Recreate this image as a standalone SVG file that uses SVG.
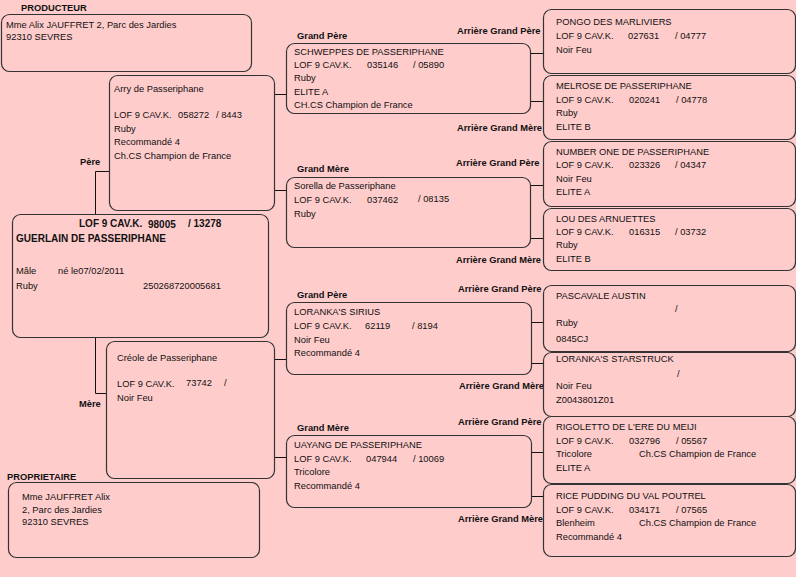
<svg xmlns="http://www.w3.org/2000/svg" width="796" height="577" viewBox="0 0 796 577">
<style>
text{font-family:"Liberation Sans",Arial,sans-serif;font-size:9.33px;fill:#111}
.b{font-weight:bold}
.h{font-weight:bold;font-size:10px}
.box{fill:#FFCCCC;stroke:#333;stroke-width:1.2}
.c{stroke:#111;stroke-width:1;fill:none}
</style>
<rect width="796" height="577" fill="#FFCCCC"/>
<g id="connectors">
<path class="c" d="M95.5,171.5H109M95.5,171.5V214M95.5,337V393.5H106"/>
<path class="c" d="M274,94.5H286M274,190.5H286M274,359.5H286M274,457.5H286"/>
<path class="c" d="M530,53.5H543M530,101.5H543M530,185.5H543M530,238.5H543M531,322.5H543M531,363.5H543M531,452.5H543M531,496.5H543"/>
</g>
<g id="labels">
<text class="b" x="21" y="10.5">PRODUCTEUR</text>
<text class="b" x="7" y="479.5">PROPRIETAIRE</text>
<text class="b" x="80" y="164.5">Père</text>
<text class="b" x="79" y="406.5">Mère</text>
<text class="b" x="297" y="38.5">Grand Père</text>
<text class="b" x="457" y="33.5">Arrière Grand Père</text>
<text class="b" x="457" y="130.5">Arrière Grand Mère</text>
<text class="b" x="297" y="172.3">Grand Mère</text>
<text class="b" x="456" y="166">Arrière Grand Père</text>
<text class="b" x="456" y="262.5">Arrière Grand Mère</text>
<text class="b" x="297" y="297.5">Grand Père</text>
<text class="b" x="458" y="291.5">Arrière Grand Père</text>
<text class="b" x="459" y="388.5">Arrière Grand Mère</text>
<text class="b" x="297" y="431">Grand Mère</text>
<text class="b" x="458" y="424.5">Arrière Grand Père</text>
<text class="b" x="458" y="521.5">Arrière Grand Mère</text>
</g>
<g id="producteur">
<rect class="box" x="1.5" y="14.5" width="250" height="57" rx="8"/>
<text x="6" y="28">Mme Alix JAUFFRET 2, Parc des Jardies</text>
<text x="6" y="40">92310 SEVRES</text>
</g>
<g id="proprietaire">
<rect class="box" x="8.5" y="482.5" width="251" height="75" rx="8"/>
<text x="22" y="499.5">Mme JAUFFRET Alix</text>
<text x="22" y="512.5">2, Parc des Jardies</text>
<text x="22" y="524.5">92310 SEVRES</text>
</g>
<g id="sujet">
<rect class="box" x="12.5" y="214.5" width="256" height="123" rx="8"/>
<text class="h" x="79" y="227">LOF 9 CAV.K.</text>
<text class="h" x="148" y="228">98005</text>
<text class="h" x="188" y="227">/  13278</text>
<text class="h" x="16" y="241.5">GUERLAIN DE PASSERIPHANE</text>
<text x="16" y="274">Mâle</text>
<text x="58" y="274">né le07/02/2011</text>
<text x="16" y="288.5">Ruby</text>
<text x="143" y="288.5">250268720005681</text>
</g>
<g id="pere">
<rect class="box" x="109.5" y="75.5" width="165" height="135" rx="8"/>
<text x="114" y="91.5">Arry de Passeriphane</text>
<text x="114" y="117.5">LOF 9 CAV.K.</text>
<text x="178" y="117.5">058272</text>
<text x="216" y="117.5">/ 8443</text>
<text x="114" y="131.5">Ruby</text>
<text x="114" y="145">Recommandé 4</text>
<text x="114" y="158.5">Ch.CS Champion de France</text>
</g>
<g id="mere">
<rect class="box" x="106.5" y="341.5" width="168" height="137" rx="8"/>
<text x="117" y="360.5">Créole de Passeriphane</text>
<text x="117" y="387">LOF 9 CAV.K.</text>
<text x="186" y="385.5">73742</text>
<text x="224" y="385.5">/</text>
<text x="117" y="401">Noir Feu</text>
</g>
<g id="gp1">
<rect class="box" x="286.5" y="43.5" width="244" height="70" rx="8"/>
<text x="294" y="54.5">SCHWEPPES DE PASSERIPHANE</text>
<text x="294" y="68">LOF 9 CAV.K.</text>
<text x="367" y="68">035146</text>
<text x="413" y="68">/ 05890</text>
<text x="294" y="81">Ruby</text>
<text x="294" y="94.5">ELITE A</text>
<text x="294" y="108">CH.CS Champion de France</text>
</g>
<g id="gm1">
<rect class="box" x="286.5" y="177.5" width="244" height="70" rx="8"/>
<text x="294" y="188.5">Sorella de Passeriphane</text>
<text x="294" y="203">LOF 9 CAV.K.</text>
<text x="367" y="203">037462</text>
<text x="418" y="201.5">/ 08135</text>
<text x="294" y="216.5">Ruby</text>
</g>
<g id="gp2">
<rect class="box" x="286.5" y="302.5" width="245" height="72" rx="8"/>
<text x="294" y="315">LORANKA'S SIRIUS</text>
<text x="294" y="328.7">LOF 9 CAV.K.</text>
<text x="365" y="328.7">62119</text>
<text x="412" y="328.7">/ 8194</text>
<text x="294" y="342.5">Noir Feu</text>
<text x="294" y="356">Recommandé 4</text>
</g>
<g id="gm2">
<rect class="box" x="286.5" y="435.5" width="245" height="72" rx="8"/>
<text x="294" y="447.5">UAYANG DE PASSERIPHANE</text>
<text x="294" y="461.5">LOF 9 CAV.K.</text>
<text x="366" y="461.5">047944</text>
<text x="413" y="461.5">/ 10069</text>
<text x="294" y="474.5">Tricolore</text>
<text x="294" y="488.5">Recommandé 4</text>
</g>
<g id="agp1">
<rect class="box" x="543.5" y="9.5" width="252" height="64" rx="8"/>
<text x="556" y="24.5">PONGO DES MARLIVIERS</text>
<text x="556" y="38.5">LOF 9 CAV.K.</text>
<text x="628" y="38.5">027631</text>
<text x="675" y="38.5">/ 04777</text>
<text x="556" y="53">Noir Feu</text>
</g>
<g id="agm1">
<rect class="box" x="543.5" y="75.5" width="252" height="64" rx="8"/>
<text x="556" y="88.5">MELROSE DE PASSERIPHANE</text>
<text x="556" y="102.5">LOF 9 CAV.K.</text>
<text x="629" y="102.5">020241</text>
<text x="676" y="102.5">/ 04778</text>
<text x="556" y="115.5">Ruby</text>
<text x="556" y="129.5">ELITE B</text>
</g>
<g id="agp2">
<rect class="box" x="543.5" y="141.5" width="252" height="65" rx="8"/>
<text x="556" y="154.5">NUMBER ONE DE PASSERIPHANE</text>
<text x="556" y="168.3">LOF 9 CAV.K.</text>
<text x="629" y="168.3">023326</text>
<text x="675" y="168.3">/ 04347</text>
<text x="556" y="181.7">Noir Feu</text>
<text x="556" y="195.3">ELITE A</text>
</g>
<g id="agm2">
<rect class="box" x="543.5" y="208.5" width="252" height="62" rx="8"/>
<text x="556" y="221.7">LOU DES ARNUETTES</text>
<text x="556" y="235">LOF 9 CAV.K.</text>
<text x="629" y="235">016315</text>
<text x="675" y="235">/ 03732</text>
<text x="556" y="248.3">Ruby</text>
<text x="556" y="262">ELITE B</text>
</g>
<g id="agp3">
<rect class="box" x="543.5" y="285.5" width="252" height="66" rx="8"/>
<text x="556" y="298.5">PASCAVALE AUSTIN</text>
<text x="675" y="312">/</text>
<text x="556" y="325.5">Ruby</text>
<text x="556" y="342">0845CJ</text>
</g>
<g id="agm3">
<rect class="box" x="543.5" y="352.5" width="252" height="64" rx="8"/>
<text x="556" y="362.3">LORANKA'S STARSTRUCK</text>
<text x="677" y="376.5">/</text>
<text x="556" y="389.3">Noir Feu</text>
<text x="556" y="403.3">Z0043801Z01</text>
</g>
<g id="agp4">
<rect class="box" x="543.5" y="416.5" width="252" height="67" rx="8"/>
<text x="556" y="430">RIGOLETTO DE L'ERE DU MEIJI</text>
<text x="556" y="444.3">LOF 9 CAV.K.</text>
<text x="629" y="444.3">032796</text>
<text x="676" y="444.3">/ 05567</text>
<text x="556" y="457.3">Tricolore</text>
<text x="639" y="457.3">Ch.CS Champion de France</text>
<text x="556" y="471">ELITE A</text>
</g>
<g id="agm4">
<rect class="box" x="543.5" y="484.5" width="252" height="72" rx="8"/>
<text x="556" y="499.3">RICE PUDDING DU VAL POUTREL</text>
<text x="556" y="513.3">LOF 9 CAV.K.</text>
<text x="629" y="513.3">034171</text>
<text x="676" y="513.3">/ 07565</text>
<text x="556" y="526">Blenheim</text>
<text x="639" y="526">Ch.CS Champion de France</text>
<text x="556" y="540">Recommandé 4</text>
</g>
</svg>
